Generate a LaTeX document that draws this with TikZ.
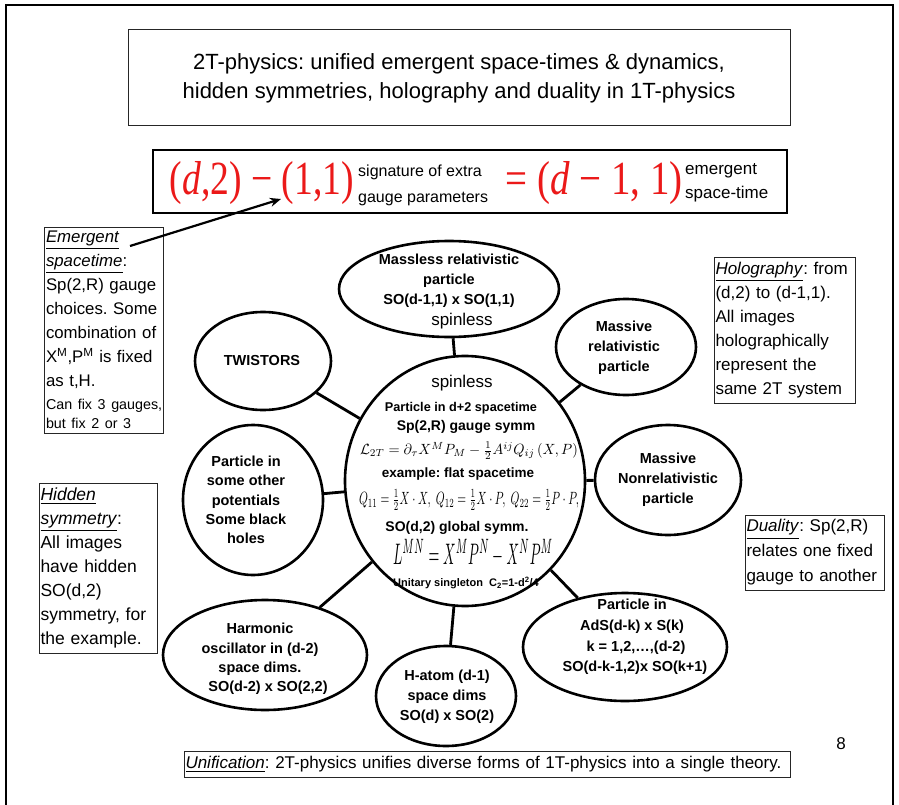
\documentclass[tikz,border=0pt]{standalone}
\usepackage[no-math]{fontspec}
\setmainfont{Liberation Sans}
\newfontfamily\tnr{Liberation Serif}
\usepackage{amsmath}
\usepackage{graphicx}
\usetikzlibrary{shapes.geometric,arrows.meta}
\definecolor{eqred}{RGB}{235,25,25}
\newcommand{\smallnote}[1]{{\fontsize{14.3}{19}\selectfont #1}}
\begin{document}
\frenchspacing
\begin{tikzpicture}[x=1pt,y=-1pt,
  oval/.style={ellipse, draw, line width=2.6pt, inner sep=0pt},
  link/.style={line width=2.8pt},
  btxt/.style={font=\bfseries\fontsize{14.5}{20}\selectfont, align=center, inner sep=0pt},
  sbox/.style={draw=black!85, line width=1pt, inner xsep=1.5pt, inner ysep=0pt, align=left,
    font=\fontsize{17}{24}\selectfont},
  plain/.style={inner sep=0pt, align=center}
]
\useasboundingbox (0,0) rectangle (899,805);
\fill[white] (0,0) rectangle (899,805);
% outer frame
\draw[line width=1.6pt] (6,812) -- (6,5) -- (893,5) -- (893,812);

% title
\node[draw=black!85, line width=1pt, minimum width=662pt, minimum height=96pt, align=center,
  font=\fontsize{22}{29}\selectfont] (title) at (459,78)
  {2T-physics: unified emergent space-times \& dynamics,\\hidden symmetries, holography and duality in 1T-physics};

% equation box
\node[draw, line width=2.8pt, minimum width=634pt, minimum height=63pt] (eqbox) at (470,181.5) {};
\node[plain, text=eqred] (red1) at (262,183) {\resizebox{184pt}{33pt}{\tnr(\textit{d},2) − (1,1)}};
\node[plain, anchor=west, align=left, font=\fontsize{16}{26}\selectfont] (sig) at (358,185) {signature of extra\\gauge parameters};
\node[plain, text=eqred] (red2) at (594,183) {\resizebox{177pt}{33pt}{\tnr= (\textit{d} − 1,\ 1)}};
\node[plain, anchor=west, align=left, font=\fontsize{17}{24}\selectfont] (emst) at (685,183) {emergent\\space-time};

% side boxes
\node[sbox, minimum width=118pt, minimum height=206pt, text width=116pt,
  font=\fontsize{16.8}{24}\selectfont] (emerg) at (104,330)
  {\underline{\textit{Emergent}}\\
   \underline{\textit{spacetime}}:\\
   Sp(2,R) gauge\\
   choices. Some\\
   combination of\\
   X\textsuperscript{M},P\textsuperscript{M} is fixed\\
   as t,H.\\[-1pt]
   \mbox{\smallnote{Can fix 3 gauges,}}\\[-5pt]
   \mbox{\smallnote{but fix 2 or 3}}};
\node[sbox, minimum width=141pt, minimum height=146pt, text width=138pt] (holo) at (784.5,330)
  {\underline{\textit{Holography}}: from\\
   (d,2) to (d-1,1).\\
   All images\\
   holographically\\
   represent the\\
   same 2T system};
\node[sbox, minimum width=118pt, minimum height=170pt, text width=115pt,
  font=\fontsize{17.5}{24}\selectfont] (hidden) at (98,568)
  {\underline{\textit{Hidden}}\\
   \underline{\textit{symmetry}}:\\
   All images\\
   have hidden\\
   SO(d,2)\\
   symmetry, for\\
   the example.};
\node[sbox, minimum width=139pt, minimum height=75pt, text width=136pt,
  font=\fontsize{17}{25}\selectfont] (dual) at (814.5,552.5)
  {\underline{\textit{Duality}}: Sp(2,R)\\
   relates one fixed\\
   gauge to another};
\node[sbox, minimum width=606pt, minimum height=26pt, text width=603pt,
  font=\fontsize{17}{20}\selectfont] (unif) at (487,764)
  {\underline{\textit{Unification}}: 2T-physics unifies diverse forms of 1T-physics into a single theory.};

% arrow
\coordinate (aS) at (130,246);
\coordinate (aE) at (281,199);
\draw[line width=2.2pt, -{Stealth[length=11pt,width=9pt]}] (aS) -- (aE);

% ellipses
\node[oval, minimum width=240pt, minimum height=250pt] (big) at (465,481) {};
\node[oval, minimum width=220pt, minimum height=96pt] (massless) at (449,289) {};
\node[oval, minimum width=140pt, minimum height=96pt] (massrel) at (626,347) {};
\node[oval, minimum width=136pt, minimum height=98pt] (twist) at (263,361) {};
\node[oval, minimum width=146pt, minimum height=110pt] (nonrel) at (668,480) {};
\node[oval, minimum width=140pt, minimum height=150pt] (other) at (253,500) {};
\node[oval, minimum width=204pt, minimum height=110pt] (harm) at (265,655) {};
\node[oval, minimum width=140pt, minimum height=100pt] (hatom) at (446,696) {};
\node[oval, minimum width=204pt, minimum height=108pt] (ads) at (625,647) {};

% connectors
\draw[link] (massless) -- (big);
\draw[link] (massrel) -- (big);
\draw[link] (twist) -- (big);
\draw[link] (nonrel) -- (big);
\draw[link] (other) -- (big);
\draw[link] (harm) -- (big);
\draw[link] (hatom) -- (big);
\draw[link] (ads) -- (big);

% ellipse texts
\node[btxt] (masslessT) at (449,292)
  {Massless relativistic\\particle\\SO(d-1,1) x SO(1,1)\\[1pt]\hspace*{26pt}{\mdseries\fontsize{17}{20}\selectfont spinless}};
\node[btxt] (massrelT) at (624,348) {Massive\\relativistic\\particle};
\node[btxt] (twistT) at (262,361) {TWISTORS};
\node[btxt] (nonrelT) at (668,480) {Massive\\Nonrelativistic\\particle};
\node[btxt, font=\bfseries\fontsize{14.5}{19.3}\selectfont] (otherT) at (246,500)
  {Particle in\\some other\\potentials\\Some black\\holes};
\node[btxt, font=\bfseries\fontsize{14.5}{19.3}\selectfont] (harmT) at (260,659)
  {Harmonic\\oscillator in (d-2)\\space dims.\\\hspace*{16pt}SO(d-2) x SO(2,2)};
\node[btxt] (hatomT) at (447,697) {H-atom (d-1)\\space dims\\SO(d) x SO(2)};
\node[btxt, font=\bfseries\fontsize{14.5}{20.7}\selectfont] (adsT) at (632,637)
  {Particle in\\AdS(d-k) x S(k)\\\hspace*{8pt}k = 1,2,\ldots,(d-2)\\\hspace*{6pt}SO(d-k-1,2)x SO(k+1)};

% big ellipse contents
\node[plain, font=\fontsize{17}{20}\selectfont] (spin) at (462,383) {spinless};
\node[plain, font=\bfseries\fontsize{12.7}{15}\selectfont] (pd2) at (461,408) {Particle in d+2 spacetime};
\node[plain, font=\bfseries\fontsize{14}{16}\selectfont] (gauge) at (466,427) {Sp(2,R) gauge symm};
\node[plain] (lag) at (469,451) {\resizebox{218pt}{12.5pt}{$\mathcal{L}_{2T}=\partial_\tau X^M P_M-\tfrac12 A^{ij}Q_{ij}\,(X,P)$}};
\node[plain, font=\bfseries\fontsize{13.5}{16}\selectfont] (flat) at (458,474) {example: flat spacetime};
\node[plain] (qline) at (469,500) {\resizebox{220pt}{15pt}{$Q_{11}=\tfrac12 X\cdot X,\ Q_{12}=\tfrac12 X\cdot P,\ Q_{22}=\tfrac12 P\cdot P,$}};
\node[plain, font=\bfseries\fontsize{14}{16}\selectfont] (glob) at (457,528) {SO(d,2) global symm.};
\node[plain] (lmn) at (473,553) {\resizebox{160pt}{25pt}{$L^{MN}=X^MP^N-X^NP^M$}};
\node[plain, font=\bfseries\fontsize{11}{12}\selectfont] (unit) at (466,583) {Unitary singleton\ \ C\textsubscript{2}=1-d\textsuperscript{2}/4};

% page number
\node[plain, font=\fontsize{17}{20}\selectfont] (pnum) at (841,744) {8};
\end{tikzpicture}
\end{document}
